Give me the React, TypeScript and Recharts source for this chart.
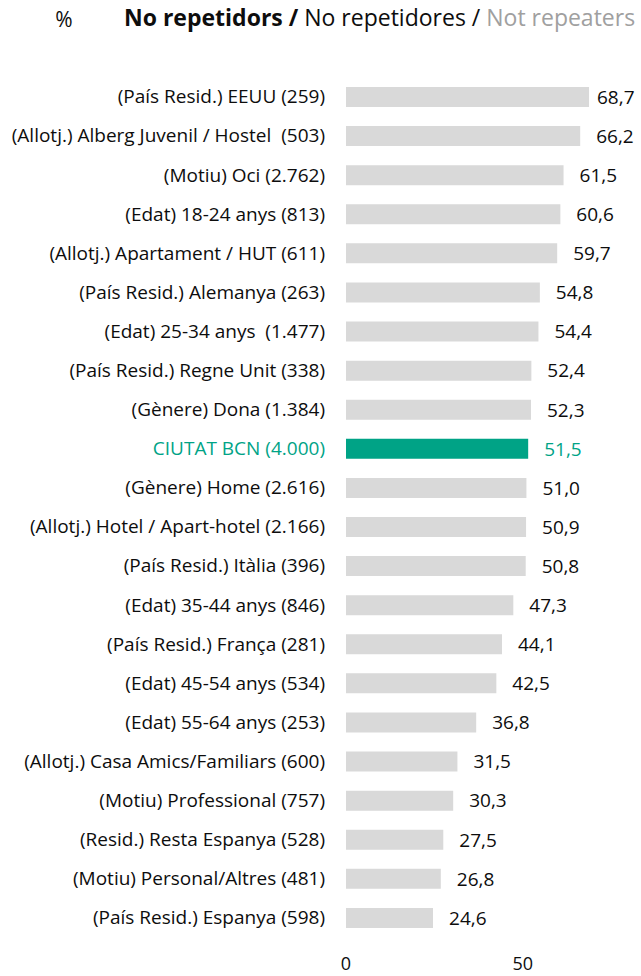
import { BarChart, Bar, XAxis, YAxis, Cell, LabelList } from 'recharts';

const categories = [
  '(País Resid.) EEUU (259)',
  '(Allotj.) Alberg Juvenil / Hostel  (503)',
  '(Motiu) Oci (2.762)',
  '(Edat) 18-24 anys (813)',
  '(Allotj.) Apartament / HUT (611)',
  '(País Resid.) Alemanya (263)',
  '(Edat) 25-34 anys  (1.477)',
  '(País Resid.) Regne Unit (338)',
  '(Gènere) Dona (1.384)',
  'CIUTAT BCN (4.000)',
  '(Gènere) Home (2.616)',
  '(Allotj.) Hotel / Apart-hotel (2.166)',
  '(País Resid.) Itàlia (396)',
  '(Edat) 35-44 anys (846)',
  '(País Resid.) França (281)',
  '(Edat) 45-54 anys (534)',
  '(Edat) 55-64 anys (253)',
  '(Allotj.) Casa Amics/Familiars (600)',
  '(Motiu) Professional (757)',
  '(Resid.) Resta Espanya (528)',
  '(Motiu) Personal/Altres (481)',
  '(País Resid.) Espanya (598)',
];

const values = [
  68.7, 66.2, 61.5, 60.6, 59.7, 54.8, 54.4, 52.4, 52.3, 51.5, 51.0,
  50.9, 50.8, 47.3, 44.1, 42.5, 36.8, 31.5, 30.3, 27.5, 26.8, 24.6,
];

const xTicks = [0, 50];
const highlight = 'CIUTAT BCN (4.000)';

const FONT = '"Open Sans", sans-serif';
const TEAL = '#00a386';
const GREY_BAR = '#d9d9d9';
const TEXT = '#0d0d0d';

const data = categories.map((name, i) => ({ name, value: values[i] }));

const fmt = (v: number) => v.toFixed(1).replace('.', ',');

function CategoryTick(props: any) {
  const { x, y, payload } = props;
  const isHl = payload.value === highlight;
  return (
    <text
      x={x}
      y={y}
      dy="0.36em"
      textAnchor="end"
      fontFamily={FONT}
      fontSize={19}
      fill={isHl ? TEAL : TEXT}
      style={{ whiteSpace: 'pre' }}
    >
      {payload.value}
    </text>
  );
}

function ValueLabel(props: any) {
  const { x, y, width, height, value, index } = props;
  const isHl = categories[index] === highlight;
  // Excel pulls the longest label back so it stays inside the chart area
  const lx = Math.min(x + width + 16, 597);
  return (
    <text
      x={lx}
      y={y + height / 2}
      dy="0.36em"
      textAnchor="start"
      fontFamily={FONT}
      fontSize={19}
      fill={isHl ? TEAL : TEXT}
    >
      {fmt(value)}
    </text>
  );
}

export default function App() {
  return (
    <div style={{ position: 'absolute', left: 0, top: 0, width: 641, height: 976, background: '#fff' }}>
      <svg width={641} height={60} style={{ position: 'absolute', left: 0, top: 0 }}>
        <text x={64} y={27} textAnchor="middle" fontFamily={FONT} fontSize={21} fill={TEXT}>
          %
        </text>
        <text x={124} y={26} fontFamily={FONT} fontSize={23} fill={TEXT}>
          <tspan fontWeight="bold">No repetidors / </tspan>
          <tspan>No repetidores / </tspan>
          <tspan fill="#a0a0a0">Not repeaters</tspan>
        </text>
      </svg>
      <BarChart
        width={641}
        height={976}
        data={data}
        layout="vertical"
        margin={{ top: 77, right: 12, bottom: 0, left: 0 }}
      >
        <XAxis
          type="number"
          domain={[0, 80]}
          ticks={xTicks}
          axisLine={false}
          tickLine={false}
          tickSize={0}
          tickMargin={20}
          height={39}
          tick={{ fontFamily: FONT, fontSize: 18, fill: TEXT }}
        />
        <YAxis
          type="category"
          dataKey="name"
          width={346}
          axisLine={false}
          tickLine={false}
          tickSize={0}
          tickMargin={21}
          interval={0}
          tick={<CategoryTick />}
        />
        <Bar dataKey="value" barSize={20} isAnimationActive={false}>
          {data.map((d) => (
            <Cell key={d.name} fill={d.name === highlight ? TEAL : GREY_BAR} />
          ))}
          <LabelList dataKey="value" content={<ValueLabel />} />
        </Bar>
      </BarChart>
    </div>
  );
}
